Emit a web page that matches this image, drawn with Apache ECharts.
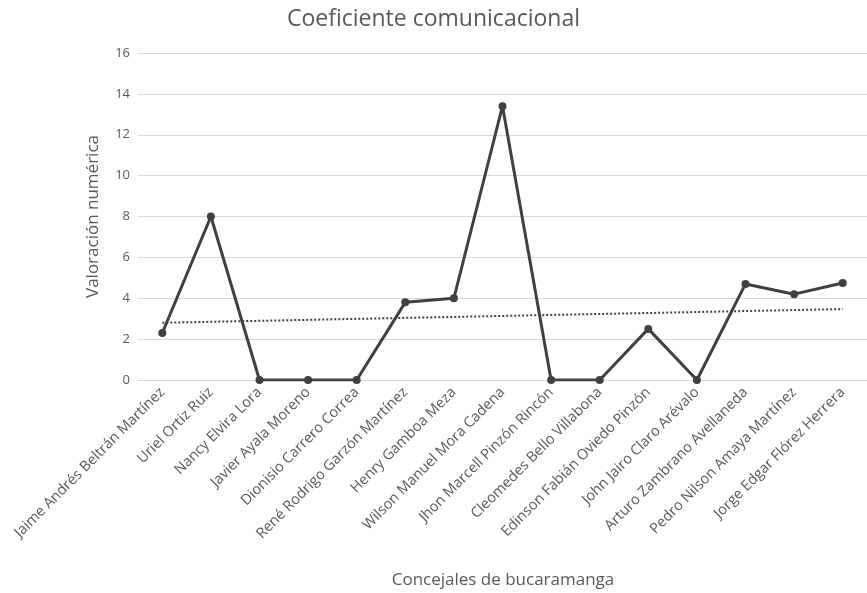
<!DOCTYPE html>
<html>
<head>
<meta charset="utf-8">
<script src="https://cdn.jsdelivr.net/npm/echarts@6/dist/echarts.min.js"></script>
<style>
html,body{margin:0;padding:0;background:#fff;}
#c{width:867px;height:593px;}
</style>
</head>
<body>
<div id="c"></div>
<script>
const categories = [
  "Jaime Andrés Beltrán Martínez",
  "Uriel Ortiz Ruiz",
  "Nancy Elvira Lora",
  "Javier Ayala Moreno",
  "Dionisio Carrero Correa",
  "René Rodrigo Garzón Martínez",
  "Henry Gamboa Meza",
  "Wilson Manuel Mora Cadena",
  "Jhon Marcell Pinzón Rincón",
  "Cleomedes Bello Villabona",
  "Edinson Fabián Oviedo Pinzón",
  "John Jairo Claro Arévalo",
  "Arturo Zambrano Avellaneda",
  "Pedro Nilson Amaya Martínez",
  "Jorge Edgar Flórez Herrera"
];
const values = [2.3, 8.0, 0, 0, 0, 3.8, 4.0, 13.4, 0, 0, 2.5, 0, 4.7, 4.2, 4.75];
// trend line endpoints (first and last category)
const trend = [2.8, null, null, null, null, null, null, null, null, null, null, null, null, null, 3.47];
const yTicks = { min: 0, max: 16, interval: 2 };

const FONT = "'Open Sans', 'Liberation Sans', sans-serif";
const GREY = '#595959';
const chart = echarts.init(document.getElementById('c'), null, { renderer: 'canvas' });
chart.setOption({
  animation: false,
  backgroundColor: '#ffffff',
  title: {
    text: 'Coeficiente comunicacional',
    left: 'center',
    top: 3,
    textStyle: { fontFamily: FONT, fontSize: 23, fontWeight: 'normal', color: GREY }
  },
  grid: { left: 138, right: -3, top: 53, bottom: 213, containLabel: false },
  xAxis: {
    type: 'category',
    data: categories,
    boundaryGap: true,
    axisLine: { show: true, lineStyle: { color: '#d9d9d9', width: 1 } },
    axisTick: { show: false },
    axisLabel: {
      rotate: 45,
      interval: 0,
      margin: 10,
      fontFamily: FONT,
      fontSize: 14.5,
      color: GREY
    }
  },
  yAxis: {
    type: 'value',
    min: yTicks.min,
    max: yTicks.max,
    interval: yTicks.interval,
    name: 'Valoración numérica',
    nameLocation: 'middle',
    nameGap: 36,
    nameTextStyle: { fontFamily: FONT, fontSize: 17, color: GREY },
    axisLine: { show: false },
    axisTick: { show: false },
    axisLabel: { fontFamily: FONT, fontSize: 13, color: GREY, margin: 8 },
    splitLine: { lineStyle: { color: '#d9d9d9', width: 1 } }
  },
  graphic: [{
    type: 'text',
    x: 503,
    y: 580,
    style: {
      text: 'Concejales de bucaramanga',
      font: "17px 'Open Sans', sans-serif",
      fill: GREY,
      textAlign: 'center',
      textVerticalAlign: 'middle'
    }
  }],
  series: [
    {
      type: 'line',
      data: values,
      symbol: 'circle',
      symbolSize: 8,
      lineStyle: { color: '#404040', width: 3 },
      itemStyle: { color: '#404040' },
      z: 3
    },
    {
      type: 'line',
      data: trend,
      connectNulls: true,
      showSymbol: false,
      symbol: 'none',
      lineStyle: { color: '#404040', width: 2, type: [2, 2] },
      z: 2
    }
  ]
});
</script>
</body>
</html>
